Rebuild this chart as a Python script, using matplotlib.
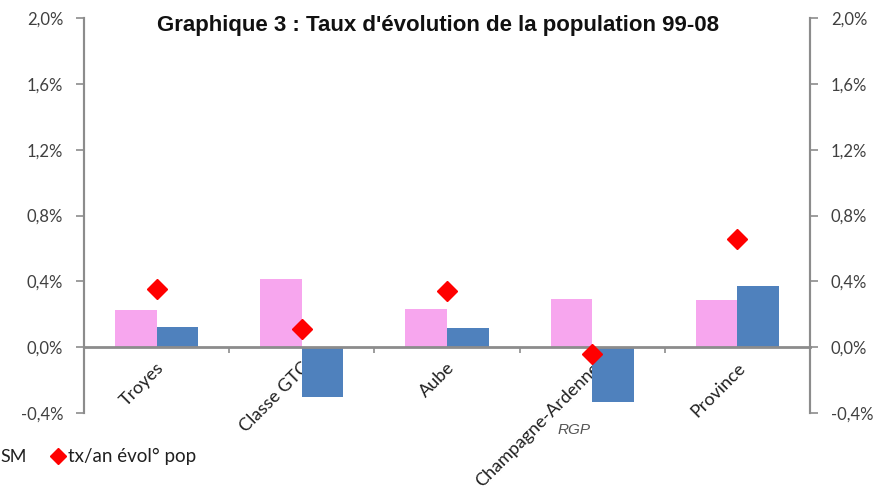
import matplotlib
matplotlib.use('Agg')
import matplotlib.pyplot as plt
import matplotlib.transforms as mtransforms
import numpy as np
from matplotlib.ticker import FixedLocator, FuncFormatter

# data (in %)
categories = ['Troyes', 'Classe GTC', 'Aube', 'Champagne-Ardenne', 'Province']
serie_rose = [0.224, 0.412, 0.230, 0.291, 0.285]
serie_bleue = [0.121, -0.303, 0.115, -0.333, 0.370]
evol_pop = [0.352, 0.109, 0.340, -0.042, 0.655]
yticks = [-0.4, 0.0, 0.4, 0.8, 1.2, 1.6, 2.0]

plt.rcParams['font.family'] = ['Lato', 'DejaVu Sans']
grey = '#8c8c8c'
txt = '#404040'

fig = plt.figure(figsize=(8.83, 4.96), dpi=100)
ax = fig.add_axes([0.0951, 0.1673, 0.8222, 0.7964])

x = np.arange(len(categories))
w = 0.286
ax.bar(x - w/2, serie_rose, w, color='#F7A6EE', zorder=2)
ax.bar(x + w/2, serie_bleue, w, color='#4F81BD', zorder=2)
ax.plot(x, evol_pop, linestyle='none', marker='D', markersize=10.5,
        color='#FF0000', zorder=4, label='tx/an évol° pop')

ax.set_xlim(-0.5, len(categories) - 0.5)
ax.set_ylim(-0.4, 2.0)

pct = FuncFormatter(lambda v, p: ('%.1f%%' % v).replace('.', ','))
ax.set_yticks(yticks)
ax.yaxis.set_major_formatter(pct)
ax.tick_params(axis='y', direction='out', length=6, width=1.2, color=grey,
               labelsize=12, labelcolor=txt, pad=9)

ax2 = ax.twinx()
ax2.set_ylim(ax.get_ylim())
ax2.set_yticks(yticks)
ax2.yaxis.set_major_formatter(pct)
ax2.tick_params(axis='y', direction='out', length=6, width=1.2, color=grey,
                labelsize=12, labelcolor=txt, pad=9)

for a in (ax, ax2):
    a.spines['top'].set_visible(False)
    a.spines['left'].set_color(grey)
    a.spines['right'].set_color(grey)
    a.spines['left'].set_linewidth(1.5)
    a.spines['right'].set_linewidth(1.5)
ax2.spines['bottom'].set_visible(False)

# x axis at zero, ticks between categories, labels at centres
ax.spines['bottom'].set_position(('data', 0))
ax.spines['bottom'].set_color(grey)
ax.spines['bottom'].set_linewidth(2)
ax.spines['bottom'].set_zorder(3)
ax.xaxis.set_major_locator(FixedLocator(x[:-1] + 0.5))
ax.xaxis.set_minor_locator(FixedLocator(x))
ax.set_xticklabels([])
ax.set_xticklabels(categories, minor=True)
ax.tick_params(axis='x', which='major', direction='out', length=4, width=1.2, color=grey)
ax.tick_params(axis='x', which='minor', length=0, pad=13)
shift = mtransforms.ScaledTranslation(0.05, 0, fig.dpi_scale_trans)
for t in ax.xaxis.get_minorticklabels():
    t.set_rotation(45)
    t.set_ha('right')
    t.set_va('center')
    t.set_rotation_mode('anchor')
    t.set_fontsize(13)
    t.set_color('#202020')
    t.set_transform(t.get_transform() + shift)

fig.text(0.4955, 0.948, "Graphique 3 : Taux d'évolution de la population 99-08",
         ha='center', va='center', fontsize=16, fontweight='bold',
         family='Liberation Sans', color='#111111')
fig.text(0.650, 0.133, 'RGP', ha='center', va='center', fontsize=11,
         style='italic', family='Liberation Sans', color='#555555')

# legend (the first entries are cut at the left edge in the source)
fig.text(0.001, 0.079, 'SM', ha='left', va='center', fontsize=13, color='#202020')
fig.legend(handles=[ax.lines[0]], loc='center left', bbox_to_anchor=(0.060, 0.079),
           frameon=False, fontsize=13.5, handlelength=0.5, handletextpad=0.3,
           borderpad=0, borderaxespad=0, labelcolor='#202020', markerscale=0.75)

fig.savefig('out.png', dpi=100)
